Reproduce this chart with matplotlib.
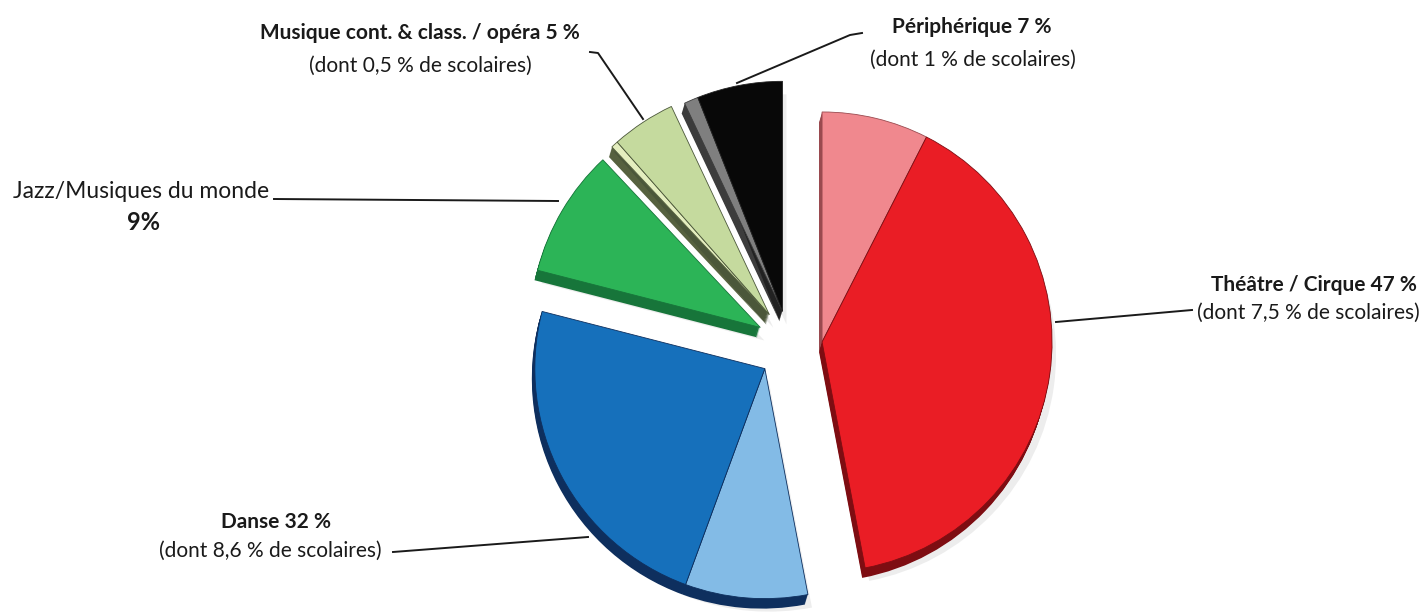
import math
import matplotlib.pyplot as plt
from matplotlib.patches import Wedge

# share of each category (percent), and the part of it that is school audiences
categories = ["Théâtre / Cirque", "Danse", "Jazz/Musiques du monde",
              "Musique cont. & class. / opéra", "Périphérique"]
totals = [47, 32, 9, 5, 7]
scolaires = [7.5, 8.6, 0, 0.5, 1]

# top face colours: (scolaires part, rest), and the side colour of the slab
top_colors = [("#f0888e", "#ea1d25"),
              ("#83bbe6", "#1670bb"),
              ("#2cb457", "#2cb457"),
              ("#e4eebf", "#c5da9e"),
              ("#7f7f7f", "#080808")]
side_colors = [("#9a4a4f", "#7e0d12"),
               ("#0e2f5e", "#0e2f5e"),
               ("#17753a", "#17753a"),
               ("#56613f", "#4b573a"),
               ("#3c3c3c", "#222222")]
explode = [0.14, 0.15, 0.15, 0.16, 0.15]

cx, cy = 790, 345
radius = 230
depth = 10
tilt = -3

fig = plt.figure(figsize=(14.28, 6.13), dpi=100)
ax = fig.add_axes([0, 0, 1, 1])
ax.set_xlim(0, 1428)
ax.set_ylim(613, 0)
ax.set_aspect("equal")
ax.axis("off")


def fr(v):
    # french decimal comma
    return f"{v:g}".replace(".", ",")


def draw_wedge(center, phi1, phi2, color, side, z):
    # phi measured clockwise from 12 o'clock; y axis points down
    t1, t2 = phi1 - 90, phi2 - 90
    x0, y0 = center
    shadow = Wedge((x0 + 4, y0 + depth + 3), radius, t1, t2,
                   facecolor="#c4c4c4", edgecolor="none", alpha=0.3, zorder=z)
    ax.add_patch(shadow)
    for k in range(depth, 0, -1):
        off = (x0 + tilt * k / depth, y0 + k)
        ax.add_patch(Wedge(off, radius, t1, t2, facecolor=side,
                           edgecolor="none", zorder=z + 1))
    ax.add_patch(Wedge(center, radius, t1, t2, facecolor=color,
                       edgecolor=side, linewidth=0.6, zorder=z + 2))


start = 0.0
for i, total in enumerate(totals):
    mid = (start + total / 2) * 3.6
    d = explode[i] * radius
    center = (cx + d * math.sin(math.radians(mid)),
              cy - d * math.cos(math.radians(mid)))
    parts = [scolaires[i], total - scolaires[i]]
    a = start
    for j, p in enumerate(parts):
        if p <= 0:
            continue
        draw_wedge(center, a * 3.6, (a + p) * 3.6,
                   top_colors[i][j], side_colors[i][j], 2 + i * 3)
        a += p
    start += total

# leader lines
line_kw = dict(color="#1a1a1a", linewidth=1.4, zorder=20)
ax.plot([862, 850, 737], [33, 35, 83], **line_kw)
ax.plot([590, 598, 643], [52, 53, 119], **line_kw)
ax.plot([274, 558], [199, 201], **line_kw)
ax.plot([1056, 1192], [322, 310], **line_kw)
ax.plot([393, 588], [552, 537], **line_kw)

font = "Lato"
fs = 15
tc = "#1a1a1a"

ax.text(972, 27, f"{categories[4]} {totals[4]} %",
        ha="center", va="center", fontsize=fs, fontweight="bold", family=font, color=tc)
ax.text(973, 60, f"(dont {fr(scolaires[4])} % de scolaires)",
        ha="center", va="center", fontsize=fs, family=font, color=tc)

ax.text(420, 33, f"{categories[3]} {totals[3]} %",
        ha="center", va="center", fontsize=fs, fontweight="bold", family=font, color=tc)
ax.text(420, 66, f"(dont {fr(scolaires[3])} % de scolaires)",
        ha="center", va="center", fontsize=fs, family=font, color=tc)

ax.text(13, 191, categories[2], ha="left", va="center",
        fontsize=16.5, family=font, color=tc)
ax.text(144, 222, f"{totals[2]}%", ha="center", va="center",
        fontsize=17, fontweight="bold", family=font, color=tc)

ax.text(1417, 285, f"{categories[0]} {totals[0]} %", ha="right", va="center",
        fontsize=fs, fontweight="bold", family=font, color=tc)
ax.text(1420, 313, f"(dont {fr(scolaires[0])} % de scolaires)",
        ha="right", va="center", fontsize=fs, family=font, color=tc)

ax.text(276, 522, f"{categories[1]} {totals[1]} %", ha="center", va="center",
        fontsize=fs, fontweight="bold", family=font, color=tc)
ax.text(270, 551, f"(dont {fr(scolaires[1])} % de scolaires)",
        ha="center", va="center", fontsize=fs, family=font, color=tc)

fig.savefig("out.png", dpi=100, facecolor="white")
